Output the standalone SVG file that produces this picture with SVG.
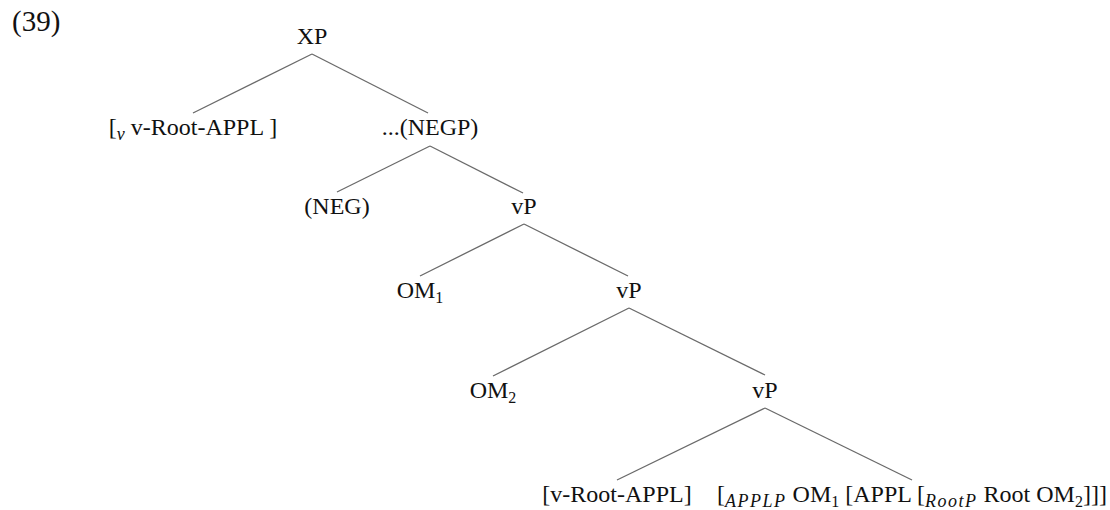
<svg xmlns="http://www.w3.org/2000/svg" width="1110" height="510" viewBox="0 0 1110 510">
<style>
  text { font-family: "Liberation Serif", "Times New Roman", serif; font-size: 24px; fill: #111; }
  .n { text-anchor: middle; }
  .sub { font-size: 16px; }
  .it { font-style: italic; font-size: 18px; letter-spacing: 1.5px; }
  .edge { stroke: #6a6a6a; stroke-width: 1.3; fill: none; }
</style>
<rect width="1110" height="510" fill="#ffffff"/>
<text id="label" x="12" y="31" style="font-size:29px">(39)</text>
<g id="connectors">
  <line class="edge" x1="312" y1="54" x2="193" y2="113"/>
  <line class="edge" x1="312" y1="54" x2="428" y2="113"/>
  <line class="edge" x1="430" y1="146" x2="337" y2="192"/>
  <line class="edge" x1="430" y1="146" x2="523" y2="193"/>
  <line class="edge" x1="524" y1="224" x2="420" y2="276"/>
  <line class="edge" x1="524" y1="224" x2="628" y2="276"/>
  <line class="edge" x1="629" y1="308" x2="493" y2="376"/>
  <line class="edge" x1="629" y1="308" x2="765" y2="375"/>
  <line class="edge" x1="765" y1="408" x2="617" y2="480"/>
  <line class="edge" x1="765" y1="408" x2="912" y2="480"/>
</g>
<g id="XP"><text class="n" x="312" y="44">XP</text></g>
<g id="vRootAPPL1"><text class="n" x="193" y="135">[<tspan class="it" dy="5" style="letter-spacing:0">v</tspan><tspan dy="-5"> v-Root-APPL ]</tspan></text></g>
<g id="NEGP"><text class="n" x="430" y="135">...(NEGP)</text></g>
<g id="NEG"><text class="n" x="337" y="214">(NEG)</text></g>
<g id="vP1"><text class="n" x="524" y="214">vP</text></g>
<g id="OM1"><text class="n" x="420" y="298">OM<tspan class="sub" dy="5">1</tspan></text></g>
<g id="vP2"><text class="n" x="629" y="298">vP</text></g>
<g id="OM2"><text class="n" x="493" y="398">OM<tspan class="sub" dy="5">2</tspan></text></g>
<g id="vP3"><text class="n" x="765" y="398">vP</text></g>
<g id="vRootAPPL2"><text class="n" x="617" y="502">[v-Root-APPL]</text></g>
<g id="APPLP"><text class="n" x="912" y="502">[<tspan class="it" dy="5">APPLP</tspan><tspan dy="-5"> OM</tspan><tspan class="sub" dy="5">1</tspan><tspan dy="-5"> [APPL [</tspan><tspan class="it" dy="5">RootP</tspan><tspan dy="-5"> Root OM</tspan><tspan class="sub" dy="5">2</tspan><tspan dy="-5">]]]</tspan></text></g>
</svg>
